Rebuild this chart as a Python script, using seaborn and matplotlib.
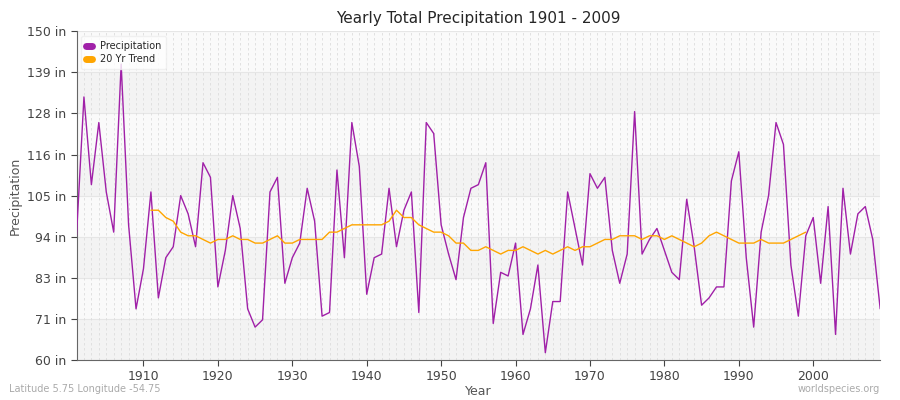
import numpy as np
import pandas as pd
import matplotlib
matplotlib.use("Agg")
import matplotlib.pyplot as plt
import seaborn as sns

years = list(range(1901, 2010))
precip = [94, 132, 108, 125, 106, 95, 141, 97, 74, 85,
          106, 77, 88, 91, 105, 100, 91, 114, 110, 80,
          90, 105, 96, 74, 69, 71, 106, 110, 81, 88,
          92, 107, 98, 72, 73, 112, 88, 125, 113, 78,
          88, 89, 107, 91, 101, 106, 73, 125, 122, 97,
          89, 82, 99, 107, 108, 114, 70, 84, 83, 92,
          67, 74, 86, 62, 76, 76, 106, 96, 86, 111,
          107, 110, 90, 81, 89, 128, 89, 93, 96, 90,
          84, 82, 104, 91, 75, 77, 80, 80, 109, 117,
          88, 69, 95, 105, 125, 119, 86, 72, 94, 99,
          81, 102, 67, 107, 89, 100, 102, 93, 74]
trend = [101, 101, 99, 98, 95, 94, 94, 93, 92, 93,
         93, 94, 93, 93, 92, 92, 93, 94, 92, 92,
         93, 93, 93, 93, 95, 95, 96, 97, 97, 97,
         97, 97, 98, 101, 99, 99, 97, 96, 95, 95,
         94, 92, 92, 90, 90, 91, 90, 89, 90, 90,
         91, 90, 89, 90, 89, 90, 91, 90, 91, 91,
         92, 93, 93, 94, 94, 94, 93, 94, 94, 93,
         94, 93, 92, 91, 92, 94, 95, 94, 93, 92,
         92, 92, 93, 92, 92, 92, 93, 94, 95]
trend_years = list(range(1911, 1911 + len(trend)))
ytick_vals = np.linspace(60, 150, 9)
ytick_labels = ["60 in", "71 in", "83 in", "94 in", "105 in", "116 in", "128 in", "139 in", "150 in"]

df_p = pd.DataFrame({"Year": years, "Precipitation": precip})
df_t = pd.DataFrame({"Year": trend_years, "Trend": trend})

sns.set_style("white")
fig, ax = plt.subplots(figsize=(9, 4), dpi=100)
fig.subplots_adjust(left=0.085, right=0.978, top=0.922, bottom=0.1)

for i in range(8):
    ax.axhspan(ytick_vals[i], ytick_vals[i + 1],
               color="#f3f3f3" if i % 2 == 0 else "#fafafa", zorder=0, lw=0)
for y in ytick_vals:
    ax.axhline(y, color="#e6e6e6", lw=0.8, zorder=0.5)
for yr in years:
    ax.axvline(yr, color="#dddddd", lw=0.6, ls=(0, (3, 3)), zorder=0.5)

sns.lineplot(data=df_p, x="Year", y="Precipitation", ax=ax, color="#a020a8",
             lw=1, label="Precipitation", zorder=3)
sns.lineplot(data=df_t, x="Year", y="Trend", ax=ax, color="#ffa500",
             lw=1, label="20 Yr Trend", zorder=3)

ax.set_xlim(1901, 2009)
ax.set_ylim(60, 150)
ax.set_yticks(ytick_vals)
ax.set_yticklabels(ytick_labels)
ax.set_xticks(range(1910, 2010, 10))
ax.tick_params(axis="both", labelsize=9, colors="#444444", length=4, left=True, bottom=True)
ax.set_xlabel("Year", fontsize=9, color="#555555", labelpad=1)
ax.set_ylabel("Precipitation", fontsize=9, color="#555555")
ax.set_title("Yearly Total Precipitation 1901 - 2009", fontsize=11)
for s in ["top", "right"]:
    ax.spines[s].set_visible(False)
for s in ["left", "bottom"]:
    ax.spines[s].set_color("#666666")

leg = ax.legend(loc="upper left", fontsize=7, frameon=True, handlelength=0.6,
                handleheight=0.6, borderpad=0.5, labelspacing=0.3)
for h in leg.legend_handles:
    h.set_linewidth(5)
leg.get_frame().set_edgecolor("#eeeeee")

fig.text(0.01, 0.02, "Latitude 5.75 Longitude -54.75", fontsize=7, color="#aaaaaa")
fig.text(0.978, 0.02, "worldspecies.org", fontsize=7, color="#aaaaaa", ha="right")

fig.savefig("out.png", dpi=100)
